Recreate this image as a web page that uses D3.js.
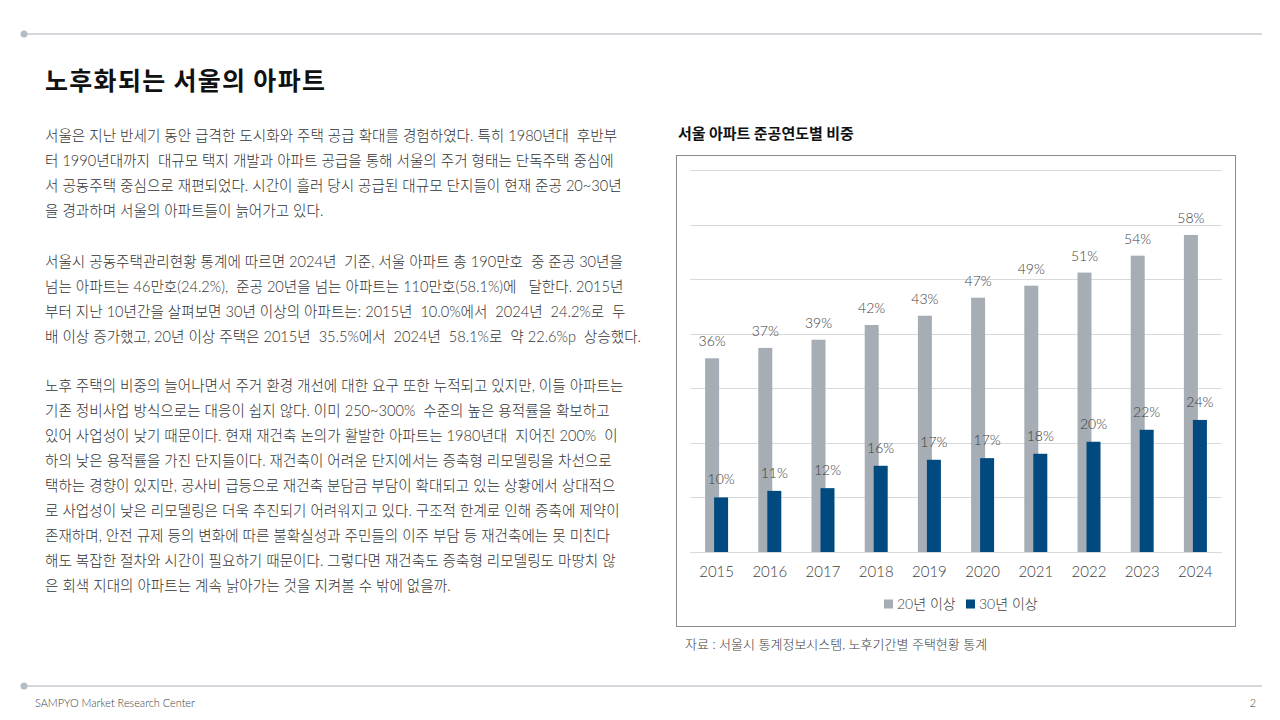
<!DOCTYPE html>
<html>
<head>
<meta charset="utf-8">
<script src="https://cdn.jsdelivr.net/npm/d3@7"></script>
<style>
  body { margin: 0; background: #fff; }
  svg { display: block; }
  .body-text { font-family: Lato, "Noto Sans CJK KR", sans-serif; font-weight: 300; font-size: 14.6px; fill: #333; }
  .num { font-family: Lato, "Noto Sans CJK KR", sans-serif; font-weight: 300; fill: #404040; }
</style>
</head>
<body>
<div id="page"></div>
<script>
// chart data
var years   = ["2015","2016","2017","2018","2019","2020","2021","2022","2023","2024"];
var over20  = [35.5, 37.4, 38.9, 41.6, 43.3, 46.6, 48.8, 51.2, 54.3, 58.1];
var over30  = [10.0, 11.2, 11.7, 15.8, 16.9, 17.2, 18.0, 20.2, 22.4, 24.2];
var seriesNames = ["20년 이상", "30년 이상"];
var yTicks = [0, 10, 20, 30, 40, 50, 60, 70];

var pageTitle  = "노후화되는 서울의 아파트";
var chartTitle = "서울 아파트 준공연도별 비중";
var sourceText = "자료 : 서울시 통계정보시스템, 노후기간별 주택현황 통계";
var footerText = "SAMPYO Market Research Center";
var pageNo = "2";

var para1 = [
  "서울은 지난 반세기 동안 급격한 도시화와 주택 공급 확대를 경험하였다. 특히 1980년대  후반부",
  "터 1990년대까지  대규모 택지 개발과 아파트 공급을 통해 서울의 주거 형태는 단독주택 중심에",
  "서 공동주택 중심으로 재편되었다. 시간이 흘러 당시 공급된 대규모 단지들이 현재 준공 20~30년",
  "을 경과하며 서울의 아파트들이 늙어가고 있다."
];
var para2 = [
  "서울시 공동주택관리현황 통계에 따르면 2024년  기준, 서울 아파트 총 190만호  중 준공 30년을",
  "넘는 아파트는 46만호(24.2%),  준공 20년을 넘는 아파트는 110만호(58.1%)에   달한다. 2015년",
  "부터 지난 10년간을 살펴보면 30년 이상의 아파트는: 2015년  10.0%에서  2024년  24.2%로  두",
  "배 이상 증가했고, 20년 이상 주택은 2015년  35.5%에서  2024년  58.1%로  약 22.6%p  상승했다."
];
var para3 = [
  "노후 주택의 비중의 늘어나면서 주거 환경 개선에 대한 요구 또한 누적되고 있지만, 이들 아파트는",
  "기존 정비사업 방식으로는 대응이 쉽지 않다. 이미 250~300%  수준의 높은 용적률을 확보하고",
  "있어 사업성이 낮기 때문이다. 현재 재건축 논의가 활발한 아파트는 1980년대  지어진 200%  이",
  "하의 낮은 용적률을 가진 단지들이다. 재건축이 어려운 단지에서는 증축형 리모델링을 차선으로",
  "택하는 경향이 있지만, 공사비 급등으로 재건축 분담금 부담이 확대되고 있는 상황에서 상대적으",
  "로 사업성이 낮은 리모델링은 더욱 추진되기 어려워지고 있다. 구조적 한계로 인해 증축에 제약이",
  "존재하며, 안전 규제 등의 변화에 따른 불확실성과 주민들의 이주 부담 등 재건축에는 못 미친다",
  "해도 복잡한 절차와 시간이 필요하기 때문이다. 그렇다면 재건축도 증축형 리모델링도 마땅치 않",
  "은 회색 지대의 아파트는 계속 낡아가는 것을 지켜볼 수 밖에 없을까."
];

var W = 1280, H = 720;
var svg = d3.select("#page").append("svg").attr("width", W).attr("height", H);
svg.append("rect").attr("width", W).attr("height", H).attr("fill", "#fff");

// top / bottom rules
[34, 686].forEach(function(y) {
  svg.append("line").attr("x1", 24).attr("x2", 1262).attr("y1", y).attr("y2", y)
    .attr("stroke", "#a9b1ba").attr("stroke-width", 1);
  svg.append("circle").attr("cx", 24).attr("cy", y).attr("r", 3.5).attr("fill", "#b5bcc4");
});

svg.append("text").attr("x", 45).attr("y", 90)
  .style("font-family", "'Noto Sans CJK KR', sans-serif").style("font-weight", 700)
  .style("font-size", "25px").attr("fill", "#111").style("letter-spacing", "1.3px")
  .text(pageTitle);

// body paragraphs
function writeLines(lines, y0) {
  svg.append("g").selectAll("text").data(lines).enter().append("text")
    .attr("class", "body-text")
    .attr("x", 45)
    .attr("y", function(d, i) { return y0 + i * 25; })
    .style("white-space", "pre")
    .attr("xml:space", "preserve")
    .text(function(d) { return d; });
}
writeLines(para1, 141);
writeLines(para2, 267);
writeLines(para3, 391);

// footer
svg.append("text").attr("x", 35).attr("y", 707).attr("class", "num")
  .style("font-size", "10.9px").attr("fill", "#8a8a8a").text(footerText);
svg.append("text").attr("x", 1256).attr("y", 707).attr("class", "num").attr("text-anchor", "end")
  .style("font-size", "10.9px").attr("fill", "#8a8a8a").text(pageNo);

// chart
svg.append("text").attr("x", 678).attr("y", 139)
  .style("font-family", "'Noto Sans CJK KR', sans-serif").style("font-weight", 700)
  .style("font-size", "15px").attr("fill", "#111").text(chartTitle);

svg.append("rect").attr("x", 676.5).attr("y", 155.5).attr("width", 559).attr("height", 471)
  .attr("fill", "none").attr("stroke", "#8c8c8c").attr("stroke-width", 1);

var x = d3.scaleBand().domain(years).range([690, 1222]);
var y = d3.scaleLinear().domain([0, 70]).range([552, 170]);
var barW = 14;

var g = svg.append("g");
g.selectAll("line.grid").data(yTicks).enter().append("line")
  .attr("class", "grid")
  .attr("x1", 690).attr("x2", 1222)
  .attr("y1", function(d) { return Math.round(y(d)) + 0.5; })
  .attr("y2", function(d) { return Math.round(y(d)) + 0.5; })
  .attr("stroke", "#d9d9d9").attr("stroke-width", 1);

var rows = years.map(function(yr, i) { return { year: yr, a: over20[i], b: over30[i] }; });

function cx(d) { return x(d.year) + x.bandwidth() / 2; }

g.selectAll("rect.s20").data(rows).enter().append("rect")
  .attr("class", "s20")
  .attr("x", function(d) { return cx(d) - 11.5; })
  .attr("width", barW)
  .attr("y", function(d) { return y(d.a); })
  .attr("height", function(d) { return y(0) - y(d.a); })
  .attr("fill", "#a6adb4");

g.selectAll("rect.s30").data(rows).enter().append("rect")
  .attr("class", "s30")
  .attr("x", function(d) { return cx(d) - 2.5; })
  .attr("width", barW)
  .attr("y", function(d) { return y(d.b); })
  .attr("height", function(d) { return y(0) - y(d.b); })
  .attr("fill", "#004a80");

g.selectAll("text.l20").data(rows).enter().append("text")
  .attr("class", "num")
  .attr("text-anchor", "middle")
  .attr("x", function(d) { return cx(d) - 4.5; })
  .attr("y", function(d) { return y(d.a) - 12; })
  .style("font-size", "14px")
  .text(function(d) { return Math.round(d.a) + "%"; });

g.selectAll("text.l30").data(rows).enter().append("text")
  .attr("class", "num")
  .attr("text-anchor", "middle")
  .attr("x", function(d) { return cx(d) + 4.5; })
  .attr("y", function(d) { return y(d.b) - 13; })
  .style("font-size", "14px")
  .text(function(d) { return Math.round(d.b) + "%"; });

var xAxis = g.append("g").attr("transform", "translate(0,552)")
  .call(d3.axisBottom(x).tickSize(0).tickPadding(14));
xAxis.select(".domain").remove();
xAxis.selectAll("text").attr("class", "num").style("font-size", "15px").attr("fill", "#404040");

// legend
var legendColors = ["#a6adb4", "#004a80"];
var legendX = [884, 966];
var lg = g.selectAll("g.leg").data(seriesNames).enter().append("g")
  .attr("transform", function(d, i) { return "translate(" + legendX[i] + ",604)"; });
lg.append("rect").attr("x", 0).attr("y", -4.5).attr("width", 9).attr("height", 9)
  .attr("fill", function(d, i) { return legendColors[i]; });
lg.append("text").attr("class", "num").attr("x", 13).attr("y", 5)
  .style("font-size", "14px").text(function(d) { return d; });

svg.append("text").attr("x", 685).attr("y", 649).attr("class", "num")
  .style("font-size", "13px").attr("fill", "#333").text(sourceText);
</script>
</body>
</html>
